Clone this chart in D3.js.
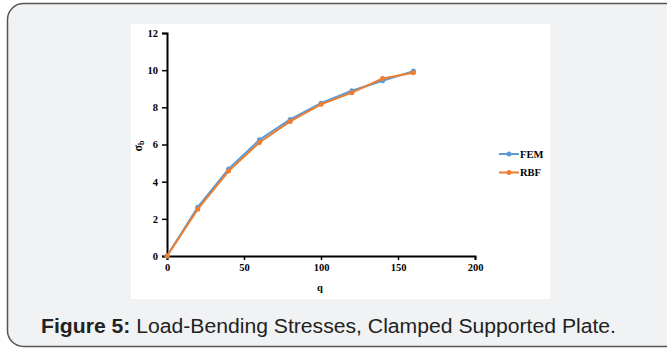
<!DOCTYPE html>
<html><head><meta charset="utf-8">
<script src="https://cdn.jsdelivr.net/npm/d3@7"></script>
<style>html,body{margin:0;padding:0;background:#fff;}svg{display:block;}</style>
</head><body>
<svg id="c" width="667" height="349"></svg>
<script>
const loads = [0, 20, 40, 60, 80, 100, 120, 140, 160];
const femValues = [0, 2.63, 4.68, 6.25, 7.35, 8.22, 8.89, 9.43, 9.95];
const rbfValues = [0, 2.52, 4.57, 6.11, 7.24, 8.16, 8.79, 9.55, 9.86];
const xTicks = [0, 50, 100, 150, 200];
const yTicks = [0, 2, 4, 6, 8, 10, 12];
const seriesNames = ["FEM", "RBF"];
const seriesColors = ["#5B9BD5", "#ED7D31"];
const captionBold = "Figure 5:";
const captionText = " Load-Bending Stresses, Clamped Supported Plate.";

const svg = d3.select("#c");
// outer panel
svg.append("rect").attr("x", 7.5).attr("y", 3.5).attr("width", 680).attr("height", 343)
  .attr("rx", 16).attr("fill", "#f1f2f4").attr("stroke", "#555").attr("stroke-width", 1.5);
// chart white area
svg.append("rect").attr("x", 131).attr("y", 24).attr("width", 419).attr("height", 275).attr("fill", "#fff");

const x = d3.scaleLinear().domain([0, 200]).range([167, 475]);
const y = d3.scaleLinear().domain([0, 12]).range([256, 33]);
const font = "'Liberation Serif','Times New Roman',serif";

const yAxis = svg.append("g").attr("transform", "translate(167,0)")
  .call(d3.axisLeft(y).tickValues(yTicks).tickSize(5).tickPadding(4).tickFormat(d3.format("d")));
const xAxis = svg.append("g").attr("transform", "translate(0,256)")
  .call(d3.axisBottom(x).tickValues(xTicks).tickSize(4).tickPadding(4).tickFormat(d3.format("d")));
[yAxis, xAxis].forEach(g => {
  g.select(".domain").attr("stroke", "#000").attr("stroke-width", 2);
  g.selectAll(".tick line").attr("stroke", "#000").attr("stroke-width", 1.5);
  g.selectAll(".tick text").attr("fill", "#000").style("font-family", font)
    .style("font-weight", "bold").style("font-size", "10.5px");
});

// axis titles
svg.append("text").attr("x", 320).attr("y", 291).attr("text-anchor", "middle")
  .style("font-family", font).style("font-weight", "bold").style("font-size", "10.5px").text("q");
const yt = svg.append("text").attr("transform", "translate(142,146) rotate(-90)").attr("text-anchor", "middle")
  .style("font-family", font).style("font-weight", "bold").style("font-size", "12px");
yt.append("tspan").text("σ");
yt.append("tspan").attr("font-size", "8px").attr("dy", 2).text("b");

const data = [femValues, rbfValues];
const line = d3.line().x((d, i) => x(loads[i])).y(d => y(d));
data.forEach((vals, k) => {
  svg.append("path").datum(vals).attr("d", line).attr("fill", "none")
    .attr("stroke", seriesColors[k]).attr("stroke-width", 2);
  svg.selectAll(null).data(vals).enter().append("circle")
    .attr("cx", (d, i) => x(loads[i])).attr("cy", d => y(d)).attr("r", 2.5)
    .attr("fill", seriesColors[k]);
});

// legend
seriesNames.forEach((n, k) => {
  const ly = 154 + k * 18.5;
  svg.append("line").attr("x1", 499).attr("x2", 519).attr("y1", ly).attr("y2", ly)
    .attr("stroke", seriesColors[k]).attr("stroke-width", 2);
  svg.append("circle").attr("cx", 509).attr("cy", ly).attr("r", 2.5).attr("fill", seriesColors[k]);
  svg.append("text").attr("x", 520).attr("y", ly + 3.5).style("font-family", font)
    .style("font-weight", "bold").style("font-size", "10.5px").text(n);
});

// caption
const cap = svg.append("text").attr("x", 41).attr("y", 333).attr("fill", "#222")
  .style("font-family", "'Liberation Sans',Arial,sans-serif").style("font-size", "20px");
cap.append("tspan").style("font-weight", "bold").text(captionBold);
cap.append("tspan").attr("xml:space", "preserve").text(captionText);
cap.attr("textLength", 575).attr("lengthAdjust", "spacingAndGlyphs");
</script>
</body></html>
